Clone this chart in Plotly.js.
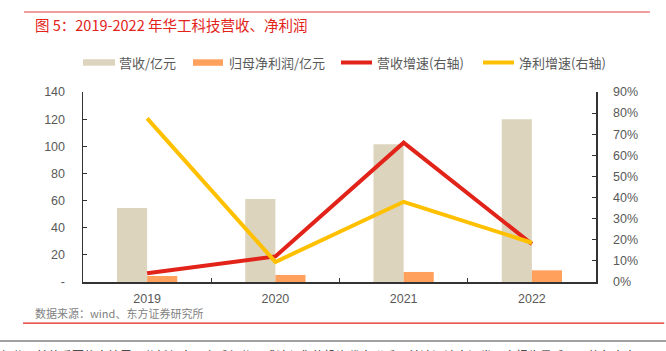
<!DOCTYPE html>
<html><head><meta charset="utf-8">
<script src="https://cdn.plot.ly/plotly-3.0.1.min.js"></script>
<style>html,body{margin:0;padding:0;background:#fff;}#c{width:666px;height:351px;}</style>
</head><body><div id="c"></div>
<script>
const years = ['2019', '2020', '2021', '2022'];
const revenue = [54.5, 61.2, 101.5, 120.0];
const netProfit = [4.4, 5.2, 7.4, 8.6];
const revenueGrowth = [0.041, 0.121, 0.66, 0.18];
const profitGrowth = [0.775, 0.095, 0.38, 0.186];
const leftTicks = [0, 20, 40, 60, 80, 100, 120, 140];
const leftTickText = ['-', '20', '40', '60', '80', '100', '120', '140'];
const rightTicks = [0, 0.1, 0.2, 0.3, 0.4, 0.5, 0.6, 0.7, 0.8, 0.9];
const seriesNames = ['营收/亿元', '归母净利润/亿元', '营收增速(右轴)', '净利增速(右轴)'];
const seriesColors = ['#DDD4BD', '#FFA05C', '#E2231A', '#FFC000'];

const F = 'Liberation Sans, Arial, Noto Sans CJK SC, sans-serif';
const CJK = 'Noto Sans CJK SC, sans-serif';
const traces = [
  {type:'bar', name:seriesNames[0], x:years, y:revenue, marker:{color:seriesColors[0]}},
  {type:'bar', name:seriesNames[1], x:years, y:netProfit, marker:{color:seriesColors[1]}},
  {type:'scatter', mode:'lines', name:seriesNames[2], x:years, y:revenueGrowth, yaxis:'y2', line:{color:seriesColors[2], width:4}},
  {type:'scatter', mode:'lines', name:seriesNames[3], x:years, y:profitGrowth, yaxis:'y2', line:{color:seriesColors[3], width:4}}
];

// manual legend (paper coordinates)
const legX = [[0, 0.0624], [0.2144, 0.2729], [0.5029, 0.5634], [0.7797, 0.8402]];
const legTextX = [0.0663, 0.2807, 0.5692, 0.846];
const legY = 1.155;
const shapes = [
  {type:'line', xref:'paper', yref:'paper', x0:-0.115, x1:1.105, y0:1.421, y1:1.421, line:{color:'#EE7B7B', width:1.5}},
  {type:'line', xref:'paper', yref:'paper', x0:-0.117, x1:1.133, y0:-0.216, y1:-0.216, line:{color:'#E2231A', width:1.2}},
  {type:'line', xref:'paper', yref:'paper', x0:-0.17, x1:1.15, y0:-0.3105, y1:-0.3105, line:{color:'#444', width:1.2}}
];
const annotations = [
  {xref:'paper', yref:'paper', x:-0.0975, y:1.353, xanchor:'left', yanchor:'middle', showarrow:false, text:'图 5：2019-2022 年华工科技营收、净利润', font:{family:CJK, size:14.5, color:'#E2231A'}},
  {xref:'paper', yref:'paper', x:-0.0975, y:-0.163, xanchor:'left', yanchor:'middle', showarrow:false, text:'数据来源：wind、东方证券研究所', font:{family:CJK, size:11, color:'#7f7f7f'}},
  {xref:'paper', yref:'paper', x:-0.166, y:-0.33, xanchor:'left', yanchor:'top', showarrow:false, text:'部分，其他重要信息披露见分析师申明之后部分，或请与您的投资代表联系，并请阅读本证券研究报告最后一页的免责声明', font:{family:CJK, size:12, color:'#222'}}
];
for (let i = 0; i < 4; i++) {
  if (i < 2) {
    shapes.push({type:'rect', xref:'paper', yref:'paper', x0:legX[i][0], x1:legX[i][1], y0:legY-0.017, y1:legY+0.017, fillcolor:seriesColors[i], line:{width:0}});
  } else {
    shapes.push({type:'line', xref:'paper', yref:'paper', x0:legX[i][0], x1:legX[i][1], y0:legY, y1:legY, line:{color:seriesColors[i], width:4}});
  }
  annotations.push({xref:'paper', yref:'paper', x:legTextX[i], y:legY, xanchor:'left', yanchor:'middle', showarrow:false, text:seriesNames[i], font:{family:CJK, size:13, color:'#595959'}});
}

const layout = {
  width:666, height:351,
  margin:{l:83, r:70, t:92, b:69},
  paper_bgcolor:'#fff', plot_bgcolor:'#fff',
  font:{family:F, size:12.5, color:'#595959'},
  barmode:'group', bargap:0.53, bargroupgap:0,
  showlegend:false,
  xaxis:{type:'category', showline:true, linecolor:'#333', linewidth:1.5, ticks:'inside', tickson:'boundaries', ticklen:4, tickcolor:'#333', showgrid:false, tickfont:{size:12.5, color:'#595959'}, ticklabelstandoff:4},
  yaxis:{range:[0,140], tickvals:leftTicks, ticktext:leftTickText, showline:true, linecolor:'#333', linewidth:1.5, ticks:'inside', ticklen:4, tickcolor:'#333', showgrid:false, zeroline:false, tickfont:{size:12.5, color:'#595959'}, ticklabelstandoff:14},
  yaxis2:{range:[0,0.9], overlaying:'y', side:'right', tickvals:rightTicks, tickformat:'.0%', showline:true, linecolor:'#333', linewidth:1.5, ticks:'inside', ticklen:4, tickcolor:'#333', showgrid:false, zeroline:false, tickfont:{size:12.5, color:'#595959'}, ticklabelstandoff:13},
  shapes:shapes,
  annotations:annotations
};
Plotly.newPlot('c', traces, layout, {displayModeBar:false, staticPlot:true});
</script></body></html>
